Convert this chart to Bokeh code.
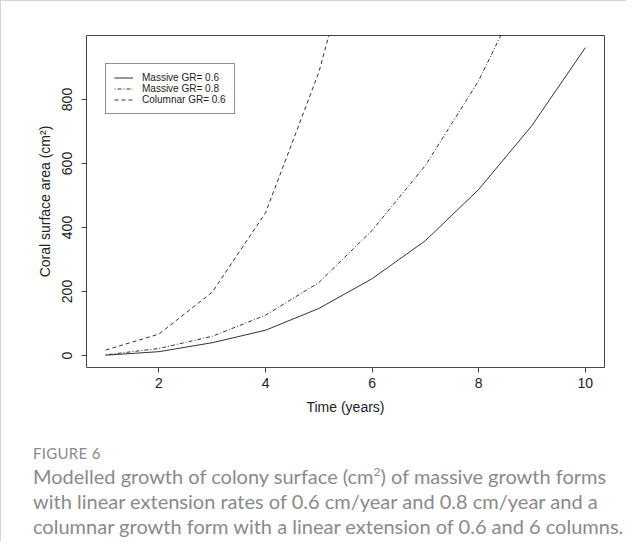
from bokeh.plotting import figure
from bokeh.models import FixedTicker, Legend, LegendItem, Range1d, Div
from bokeh.layouts import column
from bokeh.embed import file_html
from bokeh.resources import INLINE

# ---- data ----
years = [1, 2, 3, 4, 5, 6, 7, 8, 9, 10]
massive_06 = [1, 12, 40, 79, 147, 240, 359, 519, 719, 962]
years_08 = [1, 2, 3, 4, 5, 6, 7, 8, 9]
massive_08 = [2, 22, 60, 126, 228, 391, 594, 859, 1200]
years_col = [1, 2, 3, 4, 5, 6]
columnar_06 = [17, 67, 198, 446, 885, 1500]
x_ticks = [2, 4, 6, 8, 10]
y_ticks = [0, 200, 400, 600, 800]
labels = ["Massive GR= 0.6", "Massive GR= 0.8", "Columnar GR= 0.6"]

FONT = "Liberation Sans"
INK = "#333333"

p = figure(width=625, height=440, output_backend="svg", toolbar_location=None,
           x_range=Range1d(0.64, 10.36), y_range=Range1d(-37.5, 1000),
           min_border_left=85, min_border_right=22, min_border_top=34,
           min_border_bottom=74)
p.background_fill_color = "white"
p.border_fill_color = "white"
p.outline_line_color = "#444444"
p.outline_line_width = 1
p.xgrid.visible = False
p.ygrid.visible = False

r1 = p.line(years, massive_06, line_color=INK, line_width=1)
r2 = p.line(years_08, massive_08, line_color=INK, line_width=1, line_dash="1 2 4 2")
r3 = p.line(years_col, columnar_06, line_color=INK, line_width=1, line_dash="4 3")

for ax in (p.xaxis[0], p.yaxis[0]):
    ax.axis_line_color = None
    ax.major_tick_line_color = "#444444"
    ax.major_tick_out = 5
    ax.major_tick_in = 0
    ax.minor_tick_line_color = None
    ax.major_label_text_font = FONT
    ax.major_label_text_font_size = "14px"
    ax.major_label_text_color = "#222222"
    ax.axis_label_text_font = FONT
    ax.axis_label_text_font_size = "14px"
    ax.axis_label_text_font_style = "normal"
    ax.axis_label_text_color = "#222222"

p.xaxis.ticker = FixedTicker(ticks=x_ticks)
p.yaxis.ticker = FixedTicker(ticks=y_ticks)
p.xaxis.axis_label = "Time (years)"
p.yaxis.axis_label = "Coral surface area (cm²)"
p.yaxis.major_label_orientation = "vertical"
p.xaxis.major_label_standoff = 5
p.xaxis.axis_label_standoff = 8
p.yaxis.major_label_standoff = 10
p.yaxis.axis_label_standoff = 6

legend = Legend(items=[LegendItem(label=labels[0], renderers=[r1]),
                       LegendItem(label=labels[1], renderers=[r2]),
                       LegendItem(label=labels[2], renderers=[r3])],
                location=(19, 253), orientation="vertical")
legend.label_text_font = FONT
legend.label_text_font_size = "10px"
legend.label_text_color = "#222222"
legend.label_height = 11
legend.glyph_height = 11
legend.glyph_width = 19
legend.label_standoff = 9
legend.padding = 8
legend.spacing = 0
legend.margin = 0
legend.border_line_color = "#222222"
legend.border_line_width = 1
legend.background_fill_color = "white"
legend.background_fill_alpha = 1
p.add_layout(legend, "center")

caption = Div(
    text=('<div style="font-family:Lato, sans-serif; color:#8a8a8a; padding:3px 0 0 32px; white-space:nowrap;">'
          '<div style="font-size:15px; line-height:18px; letter-spacing:0.3px; margin-bottom:2px;">FIGURE 6</div>'
          '<div style="font-size:20px; line-height:25px;">'
          'Modelled growth of colony surface (cm<sup style="font-size:12px; line-height:0;">2</sup>) of massive growth forms<br>'
          'with linear extension rates of 0.6 cm/year and 0.8 cm/year and a<br>'
          'columnar growth form with a linear extension of 0.6 and 6 columns.'
          '</div></div>'),
    width=625, height=100, margin=0)

layout = column(p, caption, spacing=0,
                styles={"border-top": "1px solid #d4d4d4", "border-left": "1px solid #d4d4d4"})

with open("out.html", "w") as f:
    f.write(file_html(layout, INLINE))
